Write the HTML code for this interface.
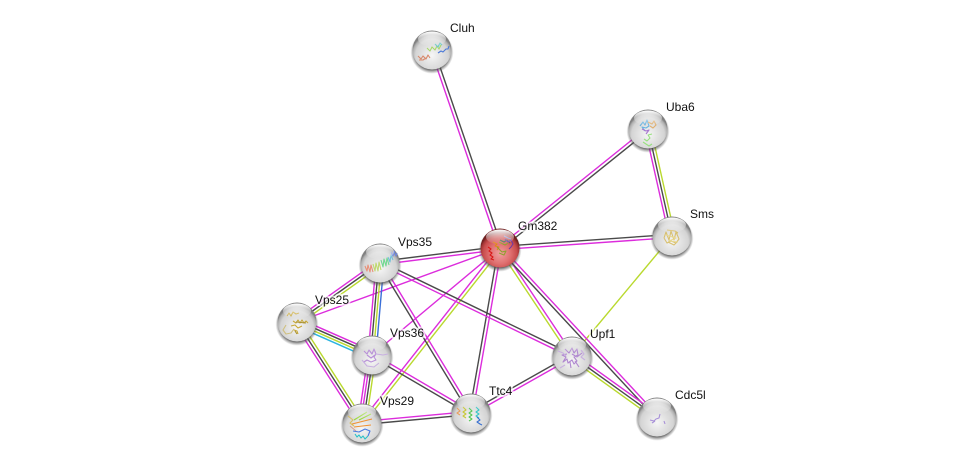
<!DOCTYPE html>
<html>
<head>
<meta charset="utf-8">
<title>Gm382 network</title>
<style>
html,body{margin:0;padding:0;background:#fff;width:976px;height:468px;overflow:hidden}
svg{display:block}
.e line{stroke-width:1.4;fill:none}
.m{stroke:#dc2cdc}.d{stroke:#4a4a4a}.y{stroke:#b9d92e}.c{stroke:#2cb4e0}.b{stroke:#3a6fd8}
text{font-family:"Liberation Sans",sans-serif;font-size:12px;fill:#111;paint-order:stroke;stroke:#fff;stroke-opacity:.7;stroke-width:4px;stroke-linejoin:round}
.p{fill:none;stroke-width:1.1;stroke-linejoin:round}
</style>
</head>
<body>
<svg width="976" height="468" viewBox="0 0 976 468" xmlns="http://www.w3.org/2000/svg">
<defs>
<radialGradient id="g" cx="50%" cy="64%" r="54%">
<stop offset="0" stop-color="#f6f6f6"/><stop offset=".45" stop-color="#e2e2e2"/><stop offset=".78" stop-color="#d4d4d4"/><stop offset=".92" stop-color="#b0b0b0"/><stop offset="1" stop-color="#808080"/>
</radialGradient>
<radialGradient id="r" cx="50%" cy="64%" r="54%">
<stop offset="0" stop-color="#f0a0a0"/><stop offset=".5" stop-color="#e07070"/><stop offset=".8" stop-color="#c84c4c"/><stop offset=".93" stop-color="#a03434"/><stop offset="1" stop-color="#702020"/>
</radialGradient>
<linearGradient id="h" x1="0" y1="0" x2="0" y2="1">
<stop offset="0" stop-color="#fff" stop-opacity="1"/><stop offset=".6" stop-color="#fff" stop-opacity=".35"/><stop offset="1" stop-color="#fff" stop-opacity="0"/>
</linearGradient>
<radialGradient id="s" cx="50%" cy="50%" r="50%">
<stop offset=".8" stop-color="#444" stop-opacity=".85"/><stop offset="1" stop-color="#666" stop-opacity="0"/>
</radialGradient>
<g id="ball"><circle cx="0" cy="2.2" r="21.5" fill="url(#s)"/><circle r="19.5" fill="url(#g)"/></g>
<g id="ballr"><circle cx="0" cy="2.2" r="21.5" fill="url(#s)"/><circle r="19.5" fill="url(#r)"/></g>
<g id="hl"><ellipse cx="0" cy="-11" rx="14" ry="7.5" fill="url(#h)"/></g>
</defs>

<g class="e">
<line class="m" x1="430.99" y1="50.52" x2="498.99" y2="248.52"/><line class="d" x1="434.01" y1="49.48" x2="502.01" y2="247.48"/>
<line class="m" x1="647" y1="127.75" x2="499" y2="246.75"/><line class="d" x1="649" y1="130.25" x2="501" y2="249.25"/>
<line class="m" x1="645.17" y1="129.63" x2="669.17" y2="236.63"/><line class="d" x1="648" y1="129" x2="672" y2="236"/><line class="y" x1="650.83" y1="128.37" x2="674.83" y2="235.37"/>
<line class="d" x1="499.89" y1="246.4" x2="671.89" y2="234.4"/><line class="m" x1="500.11" y1="249.6" x2="672.11" y2="237.6"/>
<line class="y" x1="672" y1="236" x2="572" y2="356"/>
<line class="d" x1="499.8" y1="246.41" x2="379.8" y2="261.41"/><line class="m" x1="500.2" y1="249.59" x2="380.2" y2="264.59"/>
<line class="m" x1="500" y1="248" x2="297" y2="322"/>
<line class="m" x1="500" y1="248" x2="372" y2="355"/>
<line class="m" x1="498.74" y1="247.01" x2="360.74" y2="422.01"/><line class="y" x1="501.26" y1="248.99" x2="363.26" y2="423.99"/>
<line class="d" x1="498.42" y1="247.72" x2="469.42" y2="412.72"/><line class="m" x1="501.58" y1="248.28" x2="472.58" y2="413.28"/>
<line class="y" x1="498.67" y1="248.89" x2="570.67" y2="356.89"/><line class="m" x1="501.33" y1="247.11" x2="573.33" y2="355.11"/>
<line class="d" x1="498.83" y1="249.09" x2="655.83" y2="418.09"/><line class="m" x1="501.17" y1="246.91" x2="658.17" y2="415.91"/>
<line class="m" x1="573.69" y1="353.65" x2="658.69" y2="414.65"/><line class="d" x1="572" y1="356" x2="657" y2="417"/><line class="y" x1="570.31" y1="358.35" x2="655.31" y2="419.35"/>
<line class="d" x1="572.7" y1="354.56" x2="380.7" y2="261.56"/><line class="m" x1="571.3" y1="357.44" x2="379.3" y2="264.44"/>
<line class="d" x1="571.21" y1="354.61" x2="470.21" y2="411.61"/><line class="m" x1="572.79" y1="357.39" x2="471.79" y2="414.39"/>
<line class="d" x1="378.63" y1="263.83" x2="469.63" y2="413.83"/><line class="m" x1="381.37" y1="262.17" x2="472.37" y2="412.17"/>
<line class="d" x1="371.19" y1="356.38" x2="470.19" y2="414.38"/><line class="m" x1="372.81" y1="353.62" x2="471.81" y2="411.62"/>
<line class="m" x1="361.86" y1="421.41" x2="470.86" y2="411.41"/><line class="d" x1="362.14" y1="424.59" x2="471.14" y2="414.59"/>
<line class="m" x1="378.32" y1="260.64" x2="295.32" y2="319.64"/><line class="d" x1="380" y1="263" x2="297" y2="322"/><line class="y" x1="381.68" y1="265.36" x2="298.68" y2="324.36"/>
<line class="m" x1="376.1" y1="262.66" x2="368.1" y2="354.66"/><line class="d" x1="378.7" y1="262.89" x2="370.7" y2="354.89"/><line class="y" x1="381.3" y1="263.11" x2="373.3" y2="355.11"/><line class="b" x1="383.9" y1="263.34" x2="375.9" y2="355.34"/>
<line class="m" x1="298.57" y1="318.43" x2="373.57" y2="351.43"/><line class="d" x1="297.52" y1="320.81" x2="372.52" y2="353.81"/><line class="y" x1="296.48" y1="323.19" x2="371.48" y2="356.19"/><line class="c" x1="295.43" y1="325.57" x2="370.43" y2="358.57"/>
<line class="m" x1="294.56" y1="323.57" x2="359.56" y2="424.57"/><line class="d" x1="297" y1="322" x2="362" y2="423"/><line class="y" x1="299.44" y1="320.43" x2="364.44" y2="421.43"/>
<line class="m" x1="368.14" y1="354.43" x2="358.14" y2="422.43"/><line class="m" x1="370.71" y1="354.81" x2="360.71" y2="422.81"/><line class="d" x1="373.29" y1="355.19" x2="363.29" y2="423.19"/><line class="y" x1="375.86" y1="355.57" x2="365.86" y2="423.57"/>
</g>

<!-- Cluh -->
<g transform="translate(432,50)"><use href="#ball"/>
<path class="p" stroke="#d8886a" d="M-14 6l3 3 2-3 3 3 2-4 2 3M-13 10l4 0 3-2"/>
<path class="p" stroke="#a8d86a" d="M-5 -2l3 3 2-4 3 3 2-4 2 3 2-4"/>
<path class="p" stroke="#6ac8c8" d="M3 -6l3 3 2-4 2 2"/>
<path class="p" stroke="#4a78d8" stroke-width="1.4" d="M6 3l3-2 2 1 3-3 2 0 1-3"/>
<use href="#hl"/></g>
<!-- Uba6 -->
<g transform="translate(648,129)"><use href="#ball"/>
<path class="p" stroke="#6ab4e0" d="M-8 -3l3-4 2 3 2-5 2 6-3 2-4-1 3 4"/>
<path class="p" stroke="#e0b070" d="M0 -7l4 2 2-3 2 4-3 3-3-2"/>
<path class="p" stroke="#a878d0" d="M-6 0l4 2 3-1-3 4"/>
<path class="p" stroke="#98e080" d="M-4 10l3 2 3-3-2-3 4-1M-5 13l6 4 3-2"/>
<use href="#hl"/></g>
<!-- Sms -->
<g transform="translate(672,236)"><use href="#ball"/>
<path class="p" stroke="#d8c070" d="M-8 2l2-6 3 8 2-9 3 9 2-8 3 7-3 4-5-2-4 2-3-5M-5 -6l8 1 3 2M-4 6l6 3 3-3"/>
<path class="p" stroke="#e8d890" d="M-6 -1l10 3-7 3 9 1"/>
<use href="#hl"/></g>
<!-- Gm382 -->
<g transform="translate(500,248)"><use href="#ballr"/>
<path class="p" stroke="#d81818" stroke-width="2" d="M-12 -1l3 2-2 2 3 2-2 2 3 2-2 2 3 1"/>
<path class="p" stroke="#e08818" stroke-width="1.5" d="M-7 -6l4 2-2 2 4 1-2 3"/>
<path class="p" stroke="#90a030" stroke-width="1.3" d="M-3 -1l5 5 4-1-2 4-5-2M-1 -6l6 3 3-2"/>
<path class="p" stroke="#387050" stroke-width="1.4" d="M0 -8l4 2 3-2 3 3"/>
<path class="p" stroke="#7038a0" stroke-width="1.5" d="M5 -9l3 3 3-2 2 4-2 3-2 2"/>
<path class="p" stroke="#7890d0" d="M4 -12l4 2 3 1"/>
<use href="#hl"/></g>
<!-- Vps35 -->
<g transform="translate(380,263)"><use href="#ball"/>
<path class="p" stroke="#e89078" d="M-15 3l2 5 1-6 2 7 1-7 2 7"/>
<path class="p" stroke="#c0d870" d="M-7 1l2 7 1-8 2 8 1-9 2 8"/>
<path class="p" stroke="#70d890" d="M1 -3l2 7 1-8 2 7 1-8 2 7"/>
<path class="p" stroke="#70c0d8" d="M8 -6l2 5 1-7 2 5"/>
<path class="p" stroke="#7088e0" d="M11 -11l2 4 1-5 2 5 1-3"/>
<use href="#hl"/></g>
<!-- Vps25 -->
<g transform="translate(297,322)"><use href="#ball"/>
<path class="p" stroke="#c8a838" d="M-10 -6l2-3 2 3 2-4 3 2 3-1M-4 -1l3 2 2-3 2 3 2-3 2 3 2-2 2 2M-6 4l4-1 3 3 4-2M-3 8l3 1 1 3"/>
<path class="p" stroke="#a89030" stroke-width="1.5" d="M-1 0l10 1M-2 9l2 3"/>
<path class="p" stroke="#d0c080" d="M-11 3l-3 5 3 4 5-1 3-4"/>
<use href="#hl"/></g>
<!-- Vps36 -->
<g transform="translate(372,355)"><use href="#ball"/>
<path class="p" stroke="#b890d8" d="M-8 -4l3 3 2-4 3 4 2-5 2 5-2 3 2 3-5 2-4-2-3 2M-5 0l4 3 4-3"/>
<path class="p" stroke="#c8b0e0" d="M4 -1l7 1 5-1M-10 5l5 6 7 1 5-4"/>
<use href="#hl"/></g>
<!-- Upf1 -->
<g transform="translate(572,356)"><use href="#ball"/>
<path class="p" stroke="#b088d0" d="M-7 -7l4 4 3-5 2 5 3-4 1 6-4 2 3 4-3 3-2-4-4 3-1-4-4 3 3-5-4-2 5-1M0 -2l5 3 5-4M-2 6l1 6M3 5l4 6"/>
<path class="p" stroke="#c8b0e0" d="M-14 -5l5 2 3 3M-12 12l5-3M9 -6l3 4-3 3 4 3"/>
<use href="#hl"/></g>
<!-- Ttc4 -->
<g transform="translate(471,413)"><use href="#ball"/>
<path class="p" stroke="#e8a060" d="M-14 -5l3 3-3 2 3 2"/>
<path class="p" stroke="#c8c838" stroke-width="1.4" d="M-8 -6l3 3-3 2 3 2-3 2 3 2"/>
<path class="p" stroke="#58c858" stroke-width="1.4" d="M-2 -5l3 3-3 2 3 2-3 2 3 2-3 2"/>
<path class="p" stroke="#38c8c8" stroke-width="1.4" d="M5 -6l3 3-3 2 3 2-3 2 3 2"/>
<path class="p" stroke="#3870d0" stroke-width="1.4" d="M6 4l3 3-3 2 3 2 2 1"/>
<use href="#hl"/></g>
<!-- Vps29 -->
<g transform="translate(362,423)"><use href="#ball"/>
<path class="p" stroke="#d8c060" d="M-14 -7l5 4-3 3 4 3"/>
<path class="p" stroke="#98d838" stroke-width="1.5" d="M-8 -3l13-8M-3 -3l12-6"/>
<path class="p" stroke="#f09030" stroke-width="1.5" d="M-10 1l20-5M-8 4l17-2"/>
<path class="p" stroke="#d8a090" d="M-12 3l6 5"/>
<path class="p" stroke="#4878e0" stroke-width="1.3" d="M-9 8l6 1 6-3 5 2-2 5"/>
<path class="p" stroke="#28c0c8" stroke-width="1.5" d="M-7 11l2 3 2-2 2 3 2-2 2 3 3-3"/>
<use href="#hl"/></g>
<!-- Cdc5l -->
<g transform="translate(657,417)"><use href="#ball"/>
<path class="p" stroke="#a890d8" d="M-7 3l4 1 2-2 3-1 1-4M-5 6l3-2M7 4l1 3"/>
<use href="#hl"/></g>

<text x="450" y="32">Cluh</text>
<text x="666" y="111">Uba6</text>
<text x="690" y="218">Sms</text>
<text x="518" y="230">Gm382</text>
<text x="398" y="246">Vps35</text>
<text x="315" y="304">Vps25</text>
<text x="390" y="337">Vps36</text>
<text x="590" y="338">Upf1</text>
<text x="489" y="395">Ttc4</text>
<text x="380" y="405">Vps29</text>
<text x="675" y="399">Cdc5l</text>
</svg>
</body>
</html>
